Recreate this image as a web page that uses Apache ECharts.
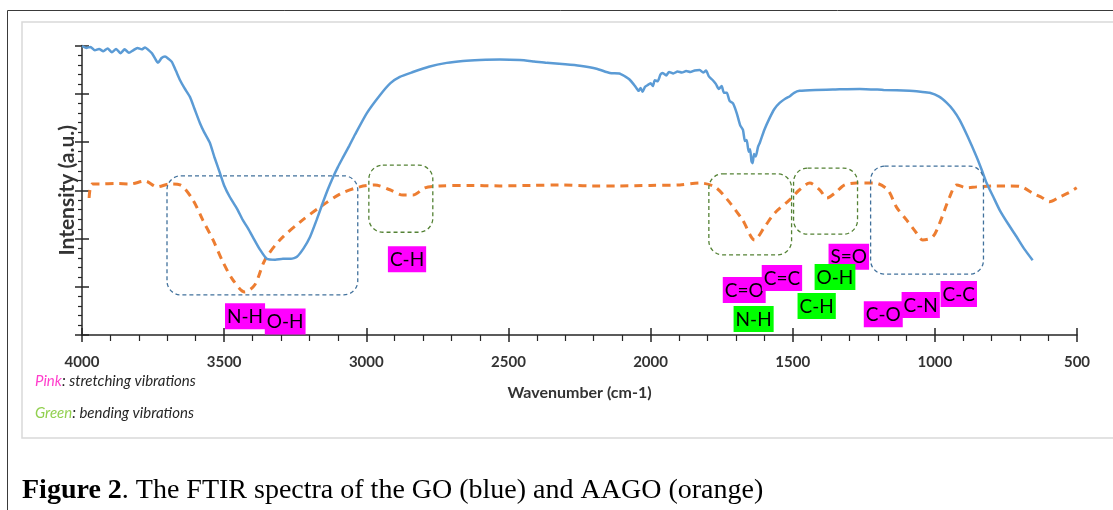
<!DOCTYPE html>
<html>
<head>
<meta charset="utf-8">
<script src="https://cdn.jsdelivr.net/npm/echarts@6/dist/echarts.min.js"></script>
<style>
    html, body { margin: 0; background: #fff; }
    #main { width: 1113px; height: 510px; }
</style>
</head>
<body>
<div id="main"></div>
<script>
// GO spectrum (blue): [wavenumber, intensity]
const goData = [
    [4000, 5.99], [3985, 5.95], [3970, 5.97], [3955, 5.90], [3940, 5.93], [3925, 5.88], [3910, 5.94],
    [3895, 5.86], [3880, 5.93], [3865, 5.84], [3850, 5.92], [3835, 5.85], [3820, 5.90], [3805, 5.95],
    [3790, 5.92], [3778, 5.96], [3765, 5.90], [3754, 5.84], [3740, 5.70], [3733, 5.64], [3720, 5.74],
    [3708, 5.77], [3695, 5.72], [3684, 5.66], [3670, 5.48], [3655, 5.28], [3640, 5.12], [3620, 4.93],
    [3605, 4.70], [3585, 4.39], [3570, 4.20], [3550, 3.98], [3535, 3.70], [3515, 3.36], [3500, 3.10],
    [3480, 2.86], [3455, 2.62], [3434, 2.38], [3415, 2.20], [3399, 2.03], [3375, 1.78], [3350, 1.58],
    [3320, 1.56], [3293, 1.58], [3265, 1.58], [3244, 1.62], [3220, 1.80], [3198, 2.03], [3175, 2.38],
    [3153, 2.74], [3135, 3.02], [3117, 3.27], [3100, 3.48], [3082, 3.68], [3060, 3.92], [3040, 4.15],
    [2998, 4.60], [2952, 4.97], [2915, 5.22], [2882, 5.35], [2836, 5.45], [2780, 5.56], [2717, 5.64],
    [2660, 5.68], [2601, 5.70], [2530, 5.71], [2460, 5.70], [2410, 5.67], [2365, 5.64], [2300, 5.61],
    [2249, 5.58], [2190, 5.52], [2143, 5.43], [2110, 5.42], [2090, 5.36], [2075, 5.30], [2060, 5.20],
    [2050, 5.12], [2042, 5.06], [2035, 5.12], [2028, 5.04], [2020, 5.14], [2010, 5.18], [2000, 5.22],
    [1992, 5.16], [1985, 5.28], [1975, 5.26], [1965, 5.40], [1957, 5.43], [1945, 5.38], [1935, 5.45],
    [1920, 5.42], [1905, 5.46], [1890, 5.44], [1875, 5.47], [1860, 5.45], [1845, 5.48], [1827, 5.49],
    [1815, 5.44], [1805, 5.48], [1795, 5.36], [1781, 5.28], [1770, 5.20], [1760, 5.10], [1750, 5.16],
    [1742, 5.02], [1732, 5.02], [1722, 4.85], [1710, 4.80], [1697, 4.60], [1685, 4.35], [1675, 4.25],
    [1668, 4.02], [1662, 4.04], [1655, 3.80], [1650, 3.85], [1645, 3.60], [1641, 3.56], [1636, 3.75],
    [1630, 3.70], [1622, 3.90], [1616, 3.98], [1600, 4.25], [1581, 4.50], [1565, 4.68], [1546, 4.81],
    [1525, 4.90], [1510, 4.95], [1495, 5.02], [1476, 5.06], [1420, 5.08], [1350, 5.09], [1264, 5.10],
    [1180, 5.08], [1089, 5.06], [1050, 5.04], [1018, 5.02], [985, 4.94], [958, 4.81], [935, 4.66],
    [913, 4.46], [885, 4.12], [853, 3.69], [835, 3.42], [818, 3.15], [795, 2.87], [772, 2.59],
    [742, 2.30], [712, 2.03], [685, 1.78], [656, 1.55]
];

// AAGO spectrum (orange)
const aagoData = [
    [3975, 2.84], [3965, 3.13], [3937, 3.13], [3880, 3.14], [3831, 3.13], [3778, 3.19], [3736, 3.07],
    [3691, 3.13], [3655, 3.11], [3610, 2.80], [3575, 2.38], [3539, 1.97], [3504, 1.51], [3469, 1.14],
    [3427, 0.89], [3392, 1.04], [3357, 1.55], [3304, 1.97], [3233, 2.34], [3163, 2.65], [3093, 2.92],
    [3023, 3.07], [2970, 3.11], [2917, 3.01], [2871, 2.90], [2836, 2.90], [2794, 3.05], [2741, 3.09],
    [2640, 3.10], [2530, 3.09], [2420, 3.10], [2319, 3.11], [2210, 3.09], [2108, 3.09], [2000, 3.10],
    [1897, 3.11], [1827, 3.15], [1774, 3.07], [1729, 2.80], [1676, 2.38], [1634, 1.97], [1599, 2.24],
    [1563, 2.53], [1511, 2.80], [1476, 3.01], [1440, 3.15], [1405, 3.01], [1380, 2.84], [1352, 2.94],
    [1317, 3.11], [1275, 3.15], [1212, 3.15], [1166, 3.01], [1135, 2.65], [1099, 2.38], [1064, 2.11],
    [1043, 1.97], [1008, 2.03], [983, 2.32], [948, 2.86], [923, 3.11], [888, 3.05], [853, 3.07],
    [790, 3.09], [737, 3.09], [695, 3.07], [656, 2.94], [621, 2.84], [597, 2.76], [561, 2.86],
    [526, 2.96], [501, 3.05]
];

// dashed highlight boxes: [left wn, right wn, top, bottom, colour]
const boxes = [
    [3701, 3030, 3.30, 0.83, '#41719c'],
    [2991, 2766, 3.52, 2.13, '#548235'],
    [1795, 1504, 3.34, 1.66, '#548235'],
    [1497, 1272, 3.46, 2.09, '#548235'],
    [1226, 829, 3.50, 1.26, '#41719c']
];

// band labels: [text, left wn, top, background]
const tags = [
    ['N-H', 3497, 0.66, '#ff00ff'],
    ['O-H', 3357, 0.55, '#ff00ff'],
    ['C-H', 2924, 1.84, '#ff00ff'],
    ['C=O', 1746, 1.20, '#ff00ff'],
    ['C=C', 1609, 1.45, '#ff00ff'],
    ['N-H', 1708, 0.60, '#00ff00'],
    ['S=O', 1374, 1.89, '#ff00ff'],
    ['O-H', 1423, 1.47, '#00ff00'],
    ['C-H', 1483, 0.87, '#00ff00'],
    ['C-O', 1250, 0.70, '#ff00ff'],
    ['C-N', 1117, 0.89, '#ff00ff'],
    ['C-C', 980, 1.12, '#ff00ff']
];

const axisColor = '#262626';
const labelFont = 'Lato';

const chartDom = document.querySelector('#main');
const myChart = echarts.init(chartDom);

const option = {
    animation: false,
    backgroundColor: '#fff',
    grid: { left: 82, right: 36, top: 45.5, bottom: 175 },
    xAxis: [
        {
            type: 'value', inverse: true, min: 500, max: 4000, interval: 500,
            position: 'bottom',
            name: 'Wavenumber (cm-1)', nameLocation: 'middle', nameGap: 50,
            nameTextStyle: { fontFamily: labelFont, fontWeight: 'bold', fontSize: 16, color: '#333' },
            axisLine: { lineStyle: { color: axisColor, width: 1.5 } },
            axisTick: { length: 7, lineStyle: { color: axisColor, width: 1.5 } },
            minorTick: { show: true, splitNumber: 5, length: 6, lineStyle: { color: axisColor, width: 1.2 } },
            axisLabel: {
                margin: 20, fontFamily: labelFont, fontWeight: 'bold', fontSize: 15, color: '#333',
                formatter: (v) => String(v)
            },
            splitLine: { show: false }
        },
        {
            type: 'value', inverse: true, min: 500, max: 4000, interval: 500,
            position: 'bottom', offset: 0,
            axisLine: { show: false },
            axisTick: { inside: true, length: 7, lineStyle: { color: axisColor, width: 1.5 } },
            axisLabel: { show: false },
            splitLine: { show: false }
        }
    ],
    yAxis: [
        {
            type: 'value', min: 0, max: 6, interval: 1,
            position: 'left',
            name: 'Intensity (a.u.)', nameLocation: 'middle', nameGap: 4,
            nameTextStyle: { fontFamily: labelFont, fontWeight: 'bold', fontSize: 21, color: '#333' },
            axisLine: { show: true, lineStyle: { color: axisColor, width: 1.5 } },
            axisTick: { show: true, length: 7, lineStyle: { color: axisColor, width: 1.5 } },
            minorTick: { show: true, splitNumber: 5, length: 4, lineStyle: { color: axisColor, width: 1.2 } },
            axisLabel: { show: false },
            splitLine: { show: false }
        },
        {
            type: 'value', min: 0, max: 6, interval: 1,
            position: 'left', offset: 0,
            axisLine: { show: false },
            axisTick: { show: true, inside: true, length: 7, lineStyle: { color: axisColor, width: 1.5 } },
            axisLabel: { show: false },
            splitLine: { show: false }
        }
    ],
    series: [
        {
            name: 'GO', type: 'line', data: goData, showSymbol: false, smooth: 0.2,
            lineStyle: { color: '#5b9bd5', width: 2.5 }, z: 3
        },
        {
            name: 'AAGO', type: 'line', data: aagoData, showSymbol: false, smooth: 0.3,
            lineStyle: { color: '#ed7d31', width: 3, type: [8, 6] }, z: 2
        }
    ]
};

myChart.setOption(option);

// frame, notes and caption, then boxes/labels placed through the axes
const px = (w, v) => myChart.convertToPixel({ xAxisIndex: 0, yAxisIndex: 0 }, [w, v]);

const graphics = [
    { type: 'rect', silent: true, z: -1, shape: { x: 7.5, y: 10.5, width: 1200, height: 600 },
      style: { fill: 'none', stroke: '#3a3a3a', lineWidth: 1 } },
    { type: 'rect', silent: true, z: -1, shape: { x: 22, y: 22, width: 1200, height: 416 },
      style: { fill: 'none', stroke: '#d9d9d9', lineWidth: 1.5 } },
    { type: 'text', x: 35, y: 381, style: {
        text: '{p|Pink}: stretching vibrations', verticalAlign: 'middle',
        font: 'italic 15px Lato', fill: '#262626',
        rich: { p: { fill: '#ff3fcc', fontStyle: 'italic', fontSize: 15, fontFamily: 'Lato' } }
    } },
    { type: 'text', x: 35, y: 413, style: {
        text: '{g|Green}: bending vibrations', verticalAlign: 'middle',
        font: 'italic 15px Lato', fill: '#262626',
        rich: { g: { fill: '#92d050', fontStyle: 'italic', fontSize: 15, fontFamily: 'Lato' } }
    } },
    { type: 'text', x: 22, y: 491, style: {
        text: '{b|Figure 2}. The FTIR spectra of the GO (blue) and AAGO (orange)', verticalAlign: 'middle',
        font: '28px "Liberation Serif"', fill: '#000',
        rich: { b: { fontWeight: 'bold', fontSize: 28, fontFamily: 'Liberation Serif', fill: '#000' } }
    } }
];

boxes.forEach(([w1, w2, v1, v2, color]) => {
    const p1 = px(w1, v1);
    const p2 = px(w2, v2);
    graphics.push({
        type: 'rect', silent: true, z: 10,
        shape: { x: p1[0], y: p1[1], width: p2[0] - p1[0], height: p2[1] - p1[1], r: 14 },
        style: { fill: 'none', stroke: color, lineWidth: 1.3, lineDash: [4, 3] }
    });
});

tags.forEach(([text, w, v, bg]) => {
    const p = px(w, v);
    graphics.push({
        type: 'text', silent: true, z: 20, x: p[0], y: p[1],
        style: {
            text: text, font: '19px Lato', fill: '#000',
            backgroundColor: bg, padding: [4, 2, 3, 2], verticalAlign: 'top'
        }
    });
});

myChart.setOption({ graphic: graphics });
</script>
</body>
</html>
